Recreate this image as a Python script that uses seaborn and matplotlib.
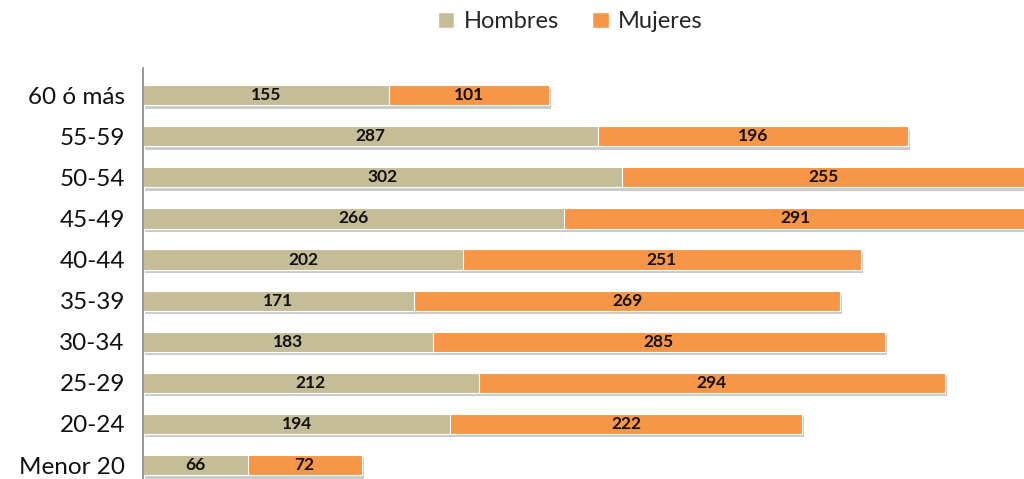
import matplotlib
matplotlib.use("Agg")
import matplotlib.pyplot as plt
import matplotlib.patheffects as pe
from matplotlib.patches import Patch
import pandas as pd
import seaborn as sns

# Data (top to bottom)
grupos = ["60 ó más", "55-59", "50-54", "45-49", "40-44", "35-39", "30-34", "25-29", "20-24", "Menor 20"]
hombres = [155, 287, 302, 266, 202, 171, 183, 212, 194, 66]
mujeres = [101, 196, 255, 291, 251, 269, 285, 294, 222, 72]

color_h = "#C4BD97"
color_m = "#F79646"

df = pd.DataFrame({"Edad": grupos, "Hombres": hombres, "Mujeres": mujeres})
df["Total"] = df["Hombres"] + df["Mujeres"]

sns.set_style("white")
plt.rcParams["font.family"] = ["Lato", "DejaVu Sans"]

fig = plt.figure(figsize=(10.24, 4.79), dpi=100)
ax = fig.add_axes([0.1396, 0.0, 0.8604, 0.858])

shadow = [pe.SimplePatchShadow(offset=(1.5, -2.5), shadow_rgbFace="#999999", alpha=0.5), pe.Normal()]

# stacked: total bar (orange) underneath, men bar on top
sns.barplot(data=df, y="Edad", x="Total", order=grupos, color=color_m, saturation=1,
            width=0.49, edgecolor="white", linewidth=0.8, ax=ax, orient="h")
sns.barplot(data=df, y="Edad", x="Hombres", order=grupos, color=color_h, saturation=1,
            width=0.49, edgecolor="white", linewidth=0.8, ax=ax, orient="h")
for p in ax.patches[:len(grupos)]:
    p.set_path_effects(shadow)

for i, (h, m) in enumerate(zip(hombres, mujeres)):
    ax.text(h / 2, i, str(h), ha="center", va="center", fontsize=12.5, fontweight="bold", color="#111111")
    ax.text(h + m / 2, i, str(m), ha="center", va="center", fontsize=12.5, fontweight="bold", color="#111111")

ax.set_xlim(0, 556)
ax.set_ylim(9.34, -0.66)
ax.set_xlabel("")
ax.set_ylabel("")
ax.set_xticks([])
ax.tick_params(axis="y", length=0, labelsize=17.5, pad=13, labelcolor="#111111")
for s in ["top", "right", "bottom"]:
    ax.spines[s].set_visible(False)
ax.spines["left"].set_color("#888888")
ax.spines["left"].set_linewidth(1.2)

handles = [Patch(facecolor=color_h, label="Hombres"), Patch(facecolor=color_m, label="Mujeres")]
fig.legend(handles=handles, loc="center", bbox_to_anchor=(0.557, 0.955), ncol=2, frameon=False,
           fontsize=17, handlelength=0.7, handleheight=0.7, handletextpad=0.4, columnspacing=1.4)

fig.savefig("out.png", dpi=100)
